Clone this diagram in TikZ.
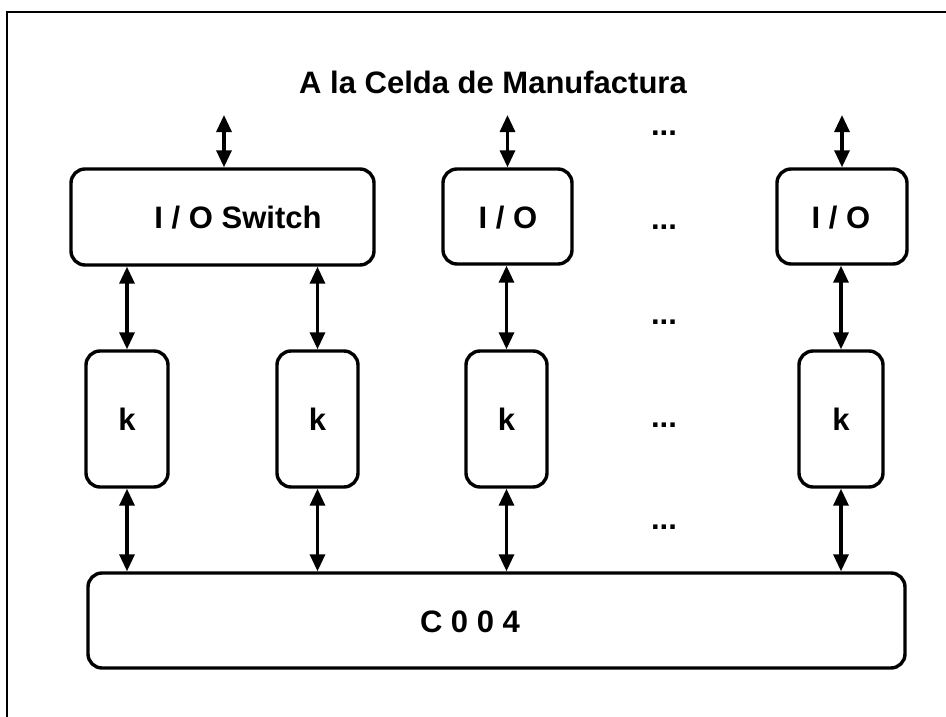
\documentclass[tikz,border=0pt]{standalone}
\usepackage{fontspec}
\setmainfont{Liberation Sans}
\usetikzlibrary{arrows.meta}
\begin{document}
\begin{tikzpicture}[x=1pt,y=-1pt,
  box/.style={draw, line width=3.4pt, rounded corners=14pt, inner sep=0pt, rectangle, font=\fontsize{31}{33}\selectfont\bfseries},
  conn/.style={line width=3.2pt, {Triangle[width=15pt,length=17pt]}-{Triangle[width=15pt,length=17pt]}},
  lbl/.style={font=\fontsize{31}{33}\selectfont\bfseries, inner sep=0pt},
  frameline/.style={line width=2pt}]
\useasboundingbox (0,0) rectangle (946,717);
\draw[frameline] (7,717) -- (7,12) -- (946,12);

\node[lbl] (title) at (493,82) {A la Celda de Manufactura};

\node[box, minimum width=303pt, minimum height=96pt] (sw) at (222.5,217) {};
\node[lbl] (swl) at (238,218) {I / O Switch};
\node[box, minimum width=129pt, minimum height=95pt] (io2) at (507.5,216.5) {};
\node[lbl] (io2l) at (508,218) {I / O};
\node[box, minimum width=130pt, minimum height=95pt] (io3) at (842,216.5) {};
\node[lbl] (io3l) at (841,218) {I / O};

\foreach \n/\x/\w in {k1/127/82, k2/317.5/81, k3/506.5/81, k4/841/84}{
  \node[box, minimum width=\w pt, minimum height=136pt] (\n) at (\x,419) {k};
}

\node[box, minimum width=817pt, minimum height=95pt] (c) at (496.5,620.5) {};
\node[lbl] (cl) at (470,622) {C 0 0 4};

\coordinate (t1) at (224,115);
\coordinate (t2) at (507.5,115);
\coordinate (t3) at (842,115);
\draw[conn] (t1) -- (t1 |- sw.north);
\draw[conn] (t2) -- (io2.north);
\draw[conn] (t3) -- (io3.north);

\draw[conn] (k1.north |- sw.south) -- (k1.north);
\draw[conn] (k2.north |- sw.south) -- (k2.north);
\draw[conn] (k3.north |- io2.south) -- (k3.north);
\draw[conn] (k4.north |- io3.south) -- (k4.north);

\foreach \n in {k1,k2,k3,k4}{
  \draw[conn] (\n.south) -- (\n.south |- c.north);
}

\foreach \i/\y in {1/133, 2/227, 3/322, 4/425, 5/527}{
  \node[lbl] (d\i) at (664,\y) {...};
}
\end{tikzpicture}
\end{document}
